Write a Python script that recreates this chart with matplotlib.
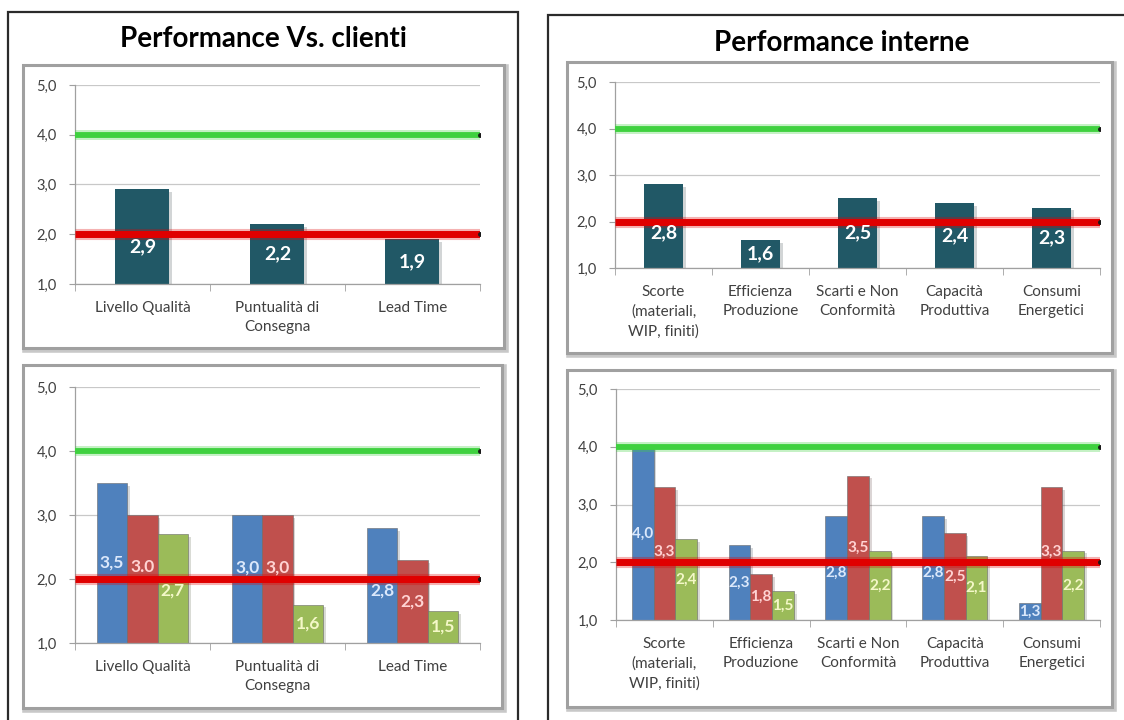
import numpy as np
import matplotlib
matplotlib.use("Agg")
import matplotlib.pyplot as plt
import matplotlib.patheffects as pe
from matplotlib.patches import Rectangle

W, H = 1124, 720

# customer-facing KPIs
clienti_cats = ["Livello Qualità", "Puntualità di\nConsegna", "Lead Time"]
clienti_values = [2.9, 2.2, 1.9]
clienti_blue = [3.5, 3.0, 2.8]
clienti_red = [3.0, 3.0, 2.3]
clienti_green = [2.7, 1.6, 1.5]
clienti_red_text = ["3.0", "3,0", "2,3"]

# internal KPIs
interne_cats = ["Scorte\n(materiali,\nWIP, finiti)", "Efficienza\nProduzione",
                "Scarti e Non\nConformità", "Capacità\nProduttiva", "Consumi\nEnergetici"]
interne_values = [2.8, 1.6, 2.5, 2.4, 2.3]
interne_blue = [4.0, 2.3, 2.8, 2.8, 1.3]
interne_red = [3.3, 1.8, 3.5, 2.5, 3.3]
interne_green = [2.4, 1.5, 2.2, 2.1, 2.2]

y_ticks = [1.0, 2.0, 3.0, 4.0, 5.0]
target_level = 4.0
alert_level = 2.0

plt.rcParams['font.family'] = ['Lato', 'DejaVu Sans']

fig = plt.figure(figsize=(W / 100, H / 100), dpi=100)
fig.patch.set_facecolor("white")


def fig_rect(x0, y0, x1, y1):
    return (x0 / W, 1 - y1 / H, (x1 - x0) / W, (y1 - y0) / H)


def fmt(v):
    return f"{v:.1f}".replace(".", ",")


def label_y(v):
    # centre of the bar, pushed off the red line when it would sit on it
    c = (1 + v) / 2
    if abs(c - alert_level) < 0.18:
        c = alert_level + 0.18 if c >= alert_level else alert_level - 0.18
    return c


def outer_box(x0, y0, x1, y1):
    l, b, w, h = fig_rect(x0, y0, x1, y1)
    fig.add_artist(Rectangle((l, b), w, h, transform=fig.transFigure, fill=False,
                             edgecolor="#2b2b2b", lw=1.6, zorder=-3))


def chart_box(x0, y0, x1, y1):
    l, b, w, h = fig_rect(x0 + 2, y0 + 2, x1 + 2, y1 + 2)
    fig.add_artist(Rectangle((l, b), w, h, transform=fig.transFigure, fill=False,
                             edgecolor="#c8c8c8", lw=4, zorder=-2))
    l, b, w, h = fig_rect(x0, y0, x1, y1)
    fig.add_artist(Rectangle((l, b), w, h, transform=fig.transFigure, facecolor="white",
                             edgecolor="#a0a0a0", lw=2.2, zorder=-1))


def setup_axes(rect, cats):
    ax = fig.add_axes(fig_rect(*rect))
    ax.set_facecolor("none")
    n = len(cats)
    ax.set_xlim(-0.5, n - 0.5)
    ax.set_ylim(1, 5)
    for s in ["top", "right"]:
        ax.spines[s].set_visible(False)
    for s in ["left", "bottom"]:
        ax.spines[s].set_color("#a0a0a0")
        ax.spines[s].set_linewidth(0.9)
    ax.set_yticks(y_ticks)
    ax.set_yticklabels([fmt(t) for t in y_ticks])
    ax.tick_params(axis="y", direction="out", length=4, color="#a0a0a0",
                   labelsize=10.5, labelcolor="#404040", pad=9)
    ax.set_xticks(np.arange(n))
    ax.set_xticklabels(cats, linespacing=1.5)
    ax.tick_params(axis="x", length=0, labelsize=11, labelcolor="#404040", pad=12)
    ax.set_xticks(np.arange(n + 1) - 0.5, minor=True)
    ax.tick_params(axis="x", which="minor", direction="out", length=5, color="#a0a0a0")
    ax.grid(axis="y", color="#c8c8c8", lw=0.9)
    ax.set_axisbelow(True)
    return ax


def level_lines(ax, n):
    xs = [-0.5, n - 0.5]
    for level, color, lw in [(target_level, "#3fd13f", 4.2), (alert_level, "#e00000", 5.0)]:
        ax.plot(xs, [level, level], color=color, lw=lw, solid_capstyle="butt", zorder=3,
                path_effects=[pe.Stroke(linewidth=lw + 3, foreground=color, alpha=0.3),
                              pe.Normal()])
        ax.plot([xs[1]], [level], marker="o", ms=2.5, color="#1a1a1a", zorder=4)


bar_shadow = [pe.SimplePatchShadow(offset=(2, -2), alpha=0.18), pe.Normal()]


def single_chart(rect, cats, values):
    ax = setup_axes(rect, cats)
    x = np.arange(len(cats))
    ax.bar(x, values, width=0.4, color="#215866", zorder=2, path_effects=bar_shadow)
    level_lines(ax, len(cats))
    for xi, v in zip(x, values):
        ax.text(xi, min((1 + v) / 2, alert_level - 0.25), fmt(v), ha="center", va="center",
                color="white", fontsize=14, fontweight="bold", zorder=5)
    return ax


def grouped_chart(rect, cats, series, fontsize):
    ax = setup_axes(rect, cats)
    x = np.arange(len(cats))
    w = 0.225
    for i, (vals, color, tcolor, texts) in enumerate(series):
        xs = x + (i - 1) * w
        ax.bar(xs, vals, width=w, color=color, edgecolor="#6a6a6a", lw=0.4, zorder=2,
               path_effects=bar_shadow)
        for xi, v, t in zip(xs, vals, texts):
            ax.text(xi, label_y(v), t, ha="center", va="center", color=tcolor,
                    fontsize=fontsize, fontweight="bold", zorder=5)
    level_lines(ax, len(cats))
    return ax


# frames and titles
outer_box(8, 12, 518, 730)
outer_box(548, 15, 1140, 730)
fig.text(263 / W, 1 - 39 / H, "Performance Vs. clienti", ha="center", va="center",
         fontsize=20, fontweight="bold", color="black")
fig.text(842 / W, 1 - 43 / H, "Performance interne", ha="center", va="center",
         fontsize=20, fontweight="bold", color="black")

chart_box(23, 65, 504, 348)
chart_box(567, 62, 1112, 353)
chart_box(23, 365, 502, 708)
chart_box(567, 370, 1112, 707)

single_chart((75, 85, 480, 284), clienti_cats, clienti_values)
single_chart((615, 82, 1100, 268), interne_cats, interne_values)

blue_c, red_c, green_c = "#4f81bd", "#c0504d", "#9bbb59"
blue_t, red_t, green_t = "#dbe8fb", "#ffd3d3", "#f4f8c8"

grouped_chart((75, 387, 480, 643), clienti_cats,
              [(clienti_blue, blue_c, blue_t, [fmt(v) for v in clienti_blue]),
               (clienti_red, red_c, red_t, clienti_red_text),
               (clienti_green, green_c, green_t, [fmt(v) for v in clienti_green])],
              fontsize=12.5)
grouped_chart((616, 389, 1100, 620), interne_cats,
              [(interne_blue, blue_c, blue_t, [fmt(v) for v in interne_blue]),
               (interne_red, red_c, red_t, [fmt(v) for v in interne_red]),
               (interne_green, green_c, green_t, [fmt(v) for v in interne_green])],
              fontsize=11)

fig.savefig("out.png", dpi=100)
